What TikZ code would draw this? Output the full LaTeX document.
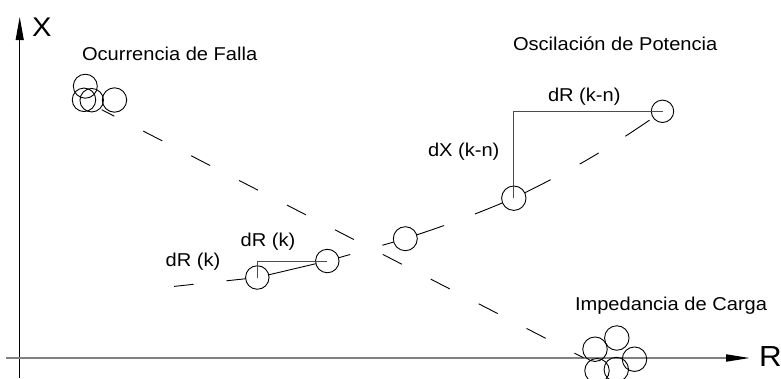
\documentclass[tikz,border=0pt]{standalone}
\usepackage{fontspec}
\setmainfont{Liberation Sans}[FakeStretch=1.08]
\usetikzlibrary{arrows.meta}
\begin{document}
\begin{tikzpicture}[x=1pt,y=-1pt,
  every node/.style={inner sep=0pt, outer sep=0pt},
  lbl/.style={anchor=base west, font=\fontsize{18.6}{22}\selectfont},
  axlbl/.style={anchor=base west, font=\fontsize{27}{30}\selectfont},
  ring/.style={circle, draw, line width=0.9pt, minimum size=23.5pt},
  traj/.style={line width=0.9pt},
  dimline/.style={draw=black!70, line width=0.9pt}]
\useasboundingbox (0,0) rectangle (781,378);

% axes
\coordinate (yb) at (19.7,378);
\coordinate (yt) at (19.7,17);
\coordinate (xl) at (6,358);
\coordinate (xr) at (750,358);
\draw[line width=1pt, -{Triangle[length=23pt,width=8pt]}] (yb) -- (yt);
\draw[draw=black!50, line width=1.8pt, -{Triangle[length=24pt,width=7pt,color=black]}] (xl) -- (xr);
\node[axlbl] (xlab) at (32,36) {X};
\node[axlbl, font=\fontsize{29}{32}\selectfont] (rlab) at (759,366.7) {R};

% fault cluster
\node[ring, minimum size=24pt] (f1) at (85.3,86.2) {};
\node[ring] (f2) at (84,99.8) {};
\node[ring] (f3) at (91.7,100.2) {};
\node[ring, minimum size=24.4pt] (f4) at (114.5,100) {};

% load cluster
\node[ring, minimum size=24.5pt] (i1) at (595,349.2) {};
\node[ring, minimum size=24.5pt] (i2) at (616.8,338) {};
\node[ring, minimum size=24.5pt] (i3) at (634.5,359.2) {};
\node[ring, minimum size=24.5pt] (i4) at (616.3,369.5) {};
\node[ring, minimum size=24.5pt] (i5) at (597,370.7) {};

% fault trajectory
\coordinate (fs) at (101.7,109.7);
\coordinate (fe) at (583.4,357.7);
\draw[traj, dash pattern=on 21.4pt off 32.5pt, dash phase=7.2pt] (fs) -- (fe);

% power swing trajectory
\node[ring] (sk) at (257.3,277.5) {};
\node[ring] (sk1) at (327.3,261) {};
\node[ring, minimum size=24pt] (s3) at (405.3,238.7) {};
\node[ring, minimum size=24.4pt] (s4) at (513.8,198.2) {};
\node[ring, minimum size=22.4pt] (s5) at (662.5,111.3) {};
\coordinate (s0) at (174,286.4);
\draw[traj, dash pattern=on 19.6pt off 33pt] (s0) -- (sk);
\draw[traj] (sk) -- (sk1);
\draw[traj, dash pattern=on 12pt off 33.5pt] (sk1) -- (s3);
\draw[traj, dash pattern=on 29pt off 33pt] (s3) to[bend right=2] (s4);
\draw[traj, dash pattern=on 29pt off 33pt on 22pt off 31.5pt] (s4) to[bend right=4] (s5);

% increments
\draw[dimline] (sk.center) |- (sk1.center);
\draw[dimline] (s4.center) |- (s5.center);

% labels
\node[lbl] (tfalla) at (82,60) {Ocurrencia de Falla};
\node[lbl] (tosc) at (513,50) {Oscilación de Potencia};
\node[lbl] (tdrkn) at (548,101) {dR (k-n)};
\node[lbl] (tdxkn) at (428,156.5) {dX (k-n)};
\node[lbl] (tdrk) at (240.7,246.5) {dR (k)};
\node[lbl] (tdrk2) at (165.7,266.8) {dR (k)};
\node[lbl] (tcarga) at (575,310) {Impedancia de Carga};
\end{tikzpicture}
\end{document}
